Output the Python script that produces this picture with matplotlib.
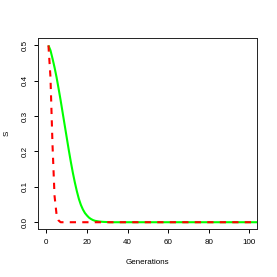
import matplotlib
matplotlib.use("Agg")
import matplotlib.pyplot as plt

# Generations
generations = list(range(1, 111))

# Green (solid) series values for generations 1..30, then zero
green_head = [0.5, 0.486, 0.463, 0.438, 0.41, 0.378, 0.345, 0.31, 0.275, 0.24,
              0.205, 0.172, 0.141, 0.113, 0.088, 0.066, 0.049, 0.036, 0.026, 0.019,
              0.013, 0.009, 0.006, 0.004, 0.003, 0.002, 0.0015, 0.001, 0.0007, 0.0005]
green_S = green_head + [0.0] * (len(generations) - len(green_head))

# Red (dashed) series values for generations 1..7, then zero
red_head = [0.5, 0.41, 0.22, 0.075, 0.022, 0.005, 0.0]
red_S = red_head + [0.0] * (len(generations) - len(red_head))

x_ticks = [0, 20, 40, 60, 80, 100]
y_ticks = [0.0, 0.1, 0.2, 0.3, 0.4, 0.5]
y_ticklabels = ["0.0", "0.1", "0.2", "0.3", "0.4", "0.5"]

plt.rcParams['font.family'] = ['Liberation Sans', 'DejaVu Sans']

W = H = 277
fig = plt.figure(figsize=(W / 100, H / 100), dpi=100)
l, r, t, b = 38.3, 257.3, 38.3, 229.3
ax = fig.add_axes([l / W, 1 - b / H, (r - l) / W, (b - t) / H])

ax.plot(generations, green_S, color="#00FF00", lw=1.5, solid_capstyle="butt")
ax.plot(generations, red_S, color="#FF0000", lw=1.5, dashes=(3, 3))

ax.set_xlim(-4, 104)
ax.set_ylim(-0.02, 0.52)
ax.set_xticks(x_ticks)
ax.set_yticks(y_ticks)
ax.set_yticklabels(y_ticklabels, rotation=90, va="center")

ax.tick_params(direction="out", length=3, width=0.7, labelsize=5.8, pad=4,
               colors="black")
for s in ax.spines.values():
    s.set_linewidth(0.7)
    s.set_color("#222222")

ax.set_xlabel("Generations", fontsize=5.8)
ax.xaxis.label.set_va("center")
ax.xaxis.set_label_coords(0.5, (b - 262) / (b - t))
ax.set_ylabel("S", fontsize=5.8)
ax.yaxis.label.set_va("center")
ax.yaxis.set_label_coords((7 - l) / (r - l), 0.5)

fig.savefig("out.png", dpi=100)
